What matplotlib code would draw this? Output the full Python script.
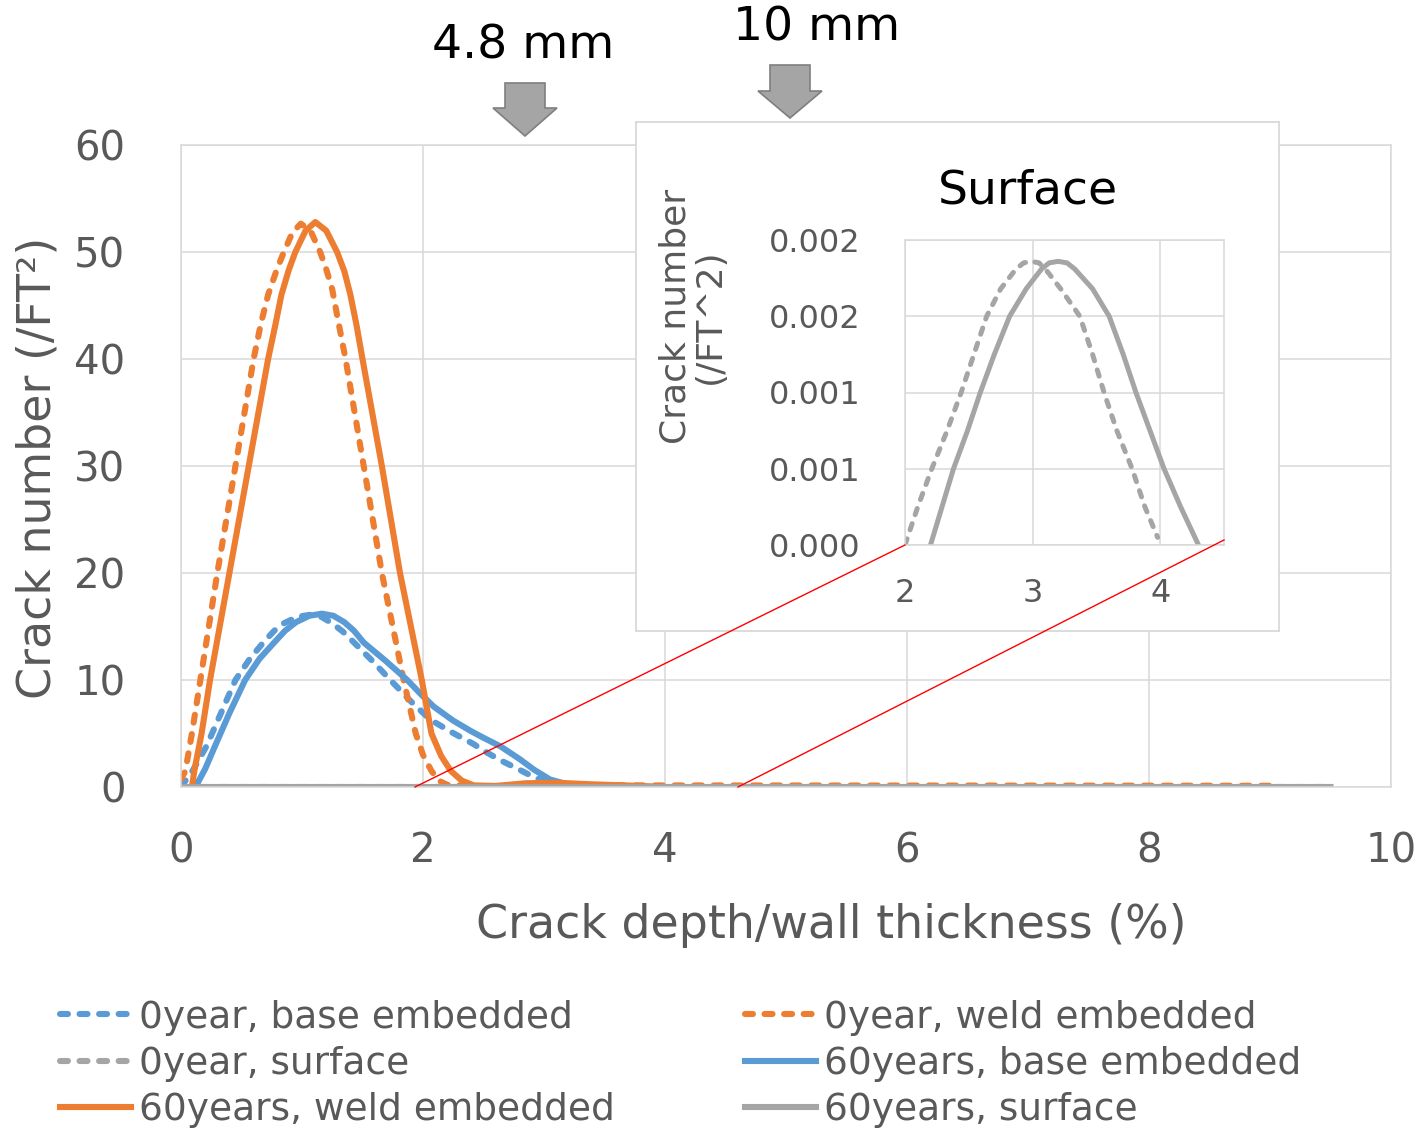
import matplotlib.pyplot as plt
from matplotlib.patches import Polygon
from matplotlib.lines import Line2D

# --- data ---
# 0 year, base embedded (blue dashed)
base0_x = [0.0, 0.1, 0.21, 0.33, 0.45, 0.57, 0.68, 0.77, 0.85, 0.96, 1.07, 1.16, 1.25, 1.34, 1.43, 1.58, 1.73,
           1.9, 2.06, 2.24, 2.42, 2.5, 2.64, 2.8, 2.92, 3.05, 3.2, 3.35]
base0_y = [0.0, 1.6, 3.8, 6.9, 10.0, 12.0, 13.5, 14.6, 15.3, 15.9, 16.1, 15.9, 15.3, 14.5, 13.5, 11.8, 10.0,
           8.0, 6.3, 5.1, 4.0, 3.4, 2.5, 1.6, 0.9, 0.35, 0.05, 0.0]

# 0 year, weld embedded (orange dashed)
weld0_x = [0.0, 0.036, 0.09, 0.16, 0.23, 0.30, 0.375, 0.45, 0.525, 0.60, 0.66, 0.72, 0.79, 0.85, 0.92, 0.99,
           1.07, 1.15, 1.20, 1.25, 1.30, 1.36, 1.435, 1.51, 1.585, 1.66, 1.75, 1.84, 1.94, 2.0, 2.07, 2.13, 2.2,
           2.5, 2.9, 3.5, 9.0]
weld0_y = [0.7, 1.5, 5.0, 10.0, 15.0, 20.0, 25.0, 30.0, 35.0, 40.0, 43.3, 46.0, 48.3, 50.0, 51.8, 52.65,
           52.0, 50.0, 48.4, 46.5, 43.5, 40.0, 35.0, 30.0, 25.0, 20.0, 15.0, 10.0, 5.0, 3.0, 1.5, 0.6, 0.2,
           0.05, 0.15, 0.15, 0.12]

# 60 years, base embedded (blue solid)
base60_x = [0.12, 0.2, 0.28, 0.4, 0.53, 0.65, 0.77, 0.86, 0.95, 1.06, 1.165, 1.26, 1.35, 1.43, 1.51, 1.69, 1.87,
            1.98, 2.09, 2.25, 2.4, 2.5, 2.64, 2.8, 2.92, 3.05, 3.18, 3.3, 3.5]
base60_y = [0.0, 1.7, 3.8, 6.9, 10.0, 12.0, 13.5, 14.6, 15.4, 16.0, 16.2, 16.0, 15.4, 14.6, 13.5, 11.8, 10.0,
            8.7, 7.5, 6.2, 5.2, 4.6, 3.8, 2.6, 1.6, 0.7, 0.3, 0.1, 0.0]

# 60 years, weld embedded (orange solid)
weld60_x = [0.09, 0.11, 0.17, 0.24, 0.32, 0.40, 0.48, 0.56, 0.64, 0.72, 0.78, 0.83, 0.89, 0.945, 1.03, 1.11,
            1.20, 1.29, 1.35, 1.40, 1.45, 1.50, 1.58, 1.66, 1.735, 1.81, 1.90, 1.99, 2.07, 2.15, 2.23, 2.32,
            2.42, 2.6, 2.85, 3.1, 3.4, 3.8, 4.0]
weld60_y = [0.0, 1.5, 5.0, 10.0, 15.0, 20.0, 25.0, 30.0, 35.0, 40.0, 43.2, 46.0, 48.3, 50.0, 52.0, 52.8,
            52.0, 50.0, 48.2, 46.0, 43.2, 40.0, 35.0, 30.0, 25.0, 20.0, 15.0, 10.0, 5.0, 2.9, 1.5, 0.6,
            0.15, 0.1, 0.35, 0.4, 0.25, 0.1, 0.0]

# surface cracks (gray), only non-zero part; zero elsewhere from 0 to 9.5
surf0_x = [2.0, 2.1, 2.21, 2.33, 2.44, 2.54, 2.64, 2.75, 2.87, 2.93, 2.99, 3.05, 3.1, 3.22, 3.37, 3.47, 3.56,
           3.66, 3.78, 3.88, 3.98]
surf0_y = [0.0, 0.00025, 0.0005, 0.00075, 0.001, 0.00125, 0.0015, 0.00168, 0.00181, 0.00185, 0.00186, 0.00185,
           0.00181, 0.00168, 0.0015, 0.00125, 0.001, 0.00075, 0.0005, 0.00025, 0.00005]
surf60_x = [2.2, 2.29, 2.38, 2.49, 2.59, 2.7, 2.82, 2.95, 3.07, 3.13, 3.2, 3.27, 3.33, 3.47, 3.6, 3.71, 3.81,
            3.92, 4.03, 4.16, 4.3]
surf60_y = [0.0, 0.00025, 0.0005, 0.00075, 0.001, 0.00125, 0.0015, 0.00168, 0.00181, 0.00185, 0.00186, 0.00185,
            0.00181, 0.00168, 0.0015, 0.00125, 0.001, 0.00075, 0.0005, 0.00025, 0.0]
surf_span = [0.0, 9.5]

labels = ['0year, base embedded', '0year, weld embedded', '0year, surface',
          '60years, base embedded', '60years, weld embedded', '60years, surface']
inset_yticks = [0, 0.0005, 0.001, 0.0015, 0.002]
inset_yticklabels = ['0.000', '0.001', '0.001', '0.002', '0.002']

BLUE, ORANGE, GRAY = '#5B9BD5', '#ED7D31', '#A5A5A5'
TXT = '#595959'
GRID = '#D9D9D9'

W, H = 1420, 1131


def fx(px):
    return px / W


def fy(py):
    return 1 - py / H


fig = plt.figure(figsize=(W / 100, H / 100), dpi=100)
ax = fig.add_axes([fx(181), fy(787), fx(1391) - fx(181), fy(145) - fy(787)])

lw = 4.4
dash = dict(linestyle=(0, (1.3, 1.9)), dash_capstyle='round')
h1, = ax.plot(base0_x, base0_y, color=BLUE, lw=lw, **dash)
h2, = ax.plot(weld0_x, weld0_y, color=ORANGE, lw=lw, **dash)
h3, = ax.plot([surf_span[0]] + surf0_x + [surf_span[1]], [0] + surf0_y + [0], color=GRAY, lw=lw, **dash)
h4, = ax.plot(base60_x, base60_y, color=BLUE, lw=lw)
h5, = ax.plot(weld60_x, weld60_y, color=ORANGE, lw=lw)
h6, = ax.plot([surf_span[0]] + surf60_x + [surf_span[1]], [0] + surf60_y + [0], color=GRAY, lw=lw)

ax.set_xlim(0, 10)
ax.set_ylim(0, 60)
ax.set_xticks(range(0, 11, 2))
ax.set_yticks(range(0, 61, 10))
ax.grid(True, color=GRID, lw=1.1)
ax.set_axisbelow(True)
for s in ax.spines.values():
    s.set_color(GRID)
    s.set_linewidth(1.1)
ax.tick_params(length=0, labelsize=29, labelcolor=TXT)
ax.tick_params(axis='y', pad=40)
ax.tick_params(axis='x', pad=32)

ax.set_xlabel('Crack depth/wall thickness (%)', fontsize=33, color=TXT, va='center')
ax.xaxis.set_label_coords(0.537, -0.215)
ax.set_ylabel('Crack number (/FT²)', fontsize=33, color=TXT, va='center')
ax.yaxis.set_label_coords(-0.118, 0.497)

# inset chart (frame + plot area)
frame = fig.add_axes([fx(636), fy(631), fx(1279) - fx(636), fy(122) - fy(631)])
frame.set_xticks([])
frame.set_yticks([])
frame.set_facecolor('white')
for s in frame.spines.values():
    s.set_color(GRID)
    s.set_linewidth(1.3)

ins = fig.add_axes([fx(905), fy(545), fx(1224) - fx(905), fy(240) - fy(545)])
ins.plot(surf0_x, surf0_y, color=GRAY, lw=3.6, linestyle=(0, (1.3, 1.9)), dash_capstyle='round')
ins.plot(surf60_x, surf60_y, color=GRAY, lw=3.6)
ins.set_xlim(2, 4.5)
ins.set_ylim(0, 0.002)
ins.set_xticks([2, 3, 4])
ins.set_yticks(inset_yticks)
ins.set_yticklabels(inset_yticklabels)
ins.grid(True, color=GRID, lw=1.1)
ins.set_axisbelow(True)
for s in ins.spines.values():
    s.set_color(GRID)
    s.set_linewidth(1.1)
ins.tick_params(length=0, labelsize=23, labelcolor=TXT)
ins.tick_params(axis='y', pad=32)
ins.tick_params(axis='x', pad=24)
ins.set_title('Surface', fontsize=34, color='black', x=0.386, pad=26)
ins.set_ylabel('Crack number\n(/FT^2)', fontsize=26, color=TXT, va='center', multialignment='center',
               linespacing=1.0)
ins.yaxis.set_label_coords(-0.665, 0.75)

# red connector lines from inset corners to the main x-axis
fig.add_artist(Line2D([fx(905), fx(415)], [fy(545), fy(787)], color='red', lw=1.0, zorder=5))
fig.add_artist(Line2D([fx(1224), fx(738)], [fy(540), fy(787)], color='red', lw=1.0, zorder=5))


# block arrows with depth annotations
def block_arrow(cx, top, neck, tip):
    pts = [(cx - 20, top), (cx + 20, top), (cx + 20, neck), (cx + 32, neck), (cx, tip),
           (cx - 32, neck), (cx - 20, neck)]
    fig.add_artist(Polygon([(fx(x), fy(y)) for x, y in pts], closed=True, transform=fig.transFigure,
                           facecolor=GRAY, edgecolor='#7F7F7F', lw=1.2, zorder=6))


block_arrow(525, 83, 108, 136)
block_arrow(790, 65, 91, 118)
fig.text(fx(523), fy(46), '4.8 mm', fontsize=34, color='black', ha='center', va='center')
fig.text(fx(817), fy(28), '10 mm', fontsize=34, color='black', ha='center', va='center')

# legend in two columns
leg_kw = dict(frameon=False, fontsize=27, handlelength=1.9, handletextpad=0.2, labelspacing=0.28,
              borderaxespad=0, borderpad=0, loc='center left', labelcolor=TXT)
leg1 = fig.legend([h1, h3, h5], [labels[0], labels[2], labels[4]],
                  bbox_to_anchor=(fx(60), fy(1064)), **leg_kw)
leg2 = fig.legend([h2, h4, h6], [labels[1], labels[3], labels[5]],
                  bbox_to_anchor=(fx(745), fy(1064)), **leg_kw)

fig.savefig('out.png', dpi=100)
